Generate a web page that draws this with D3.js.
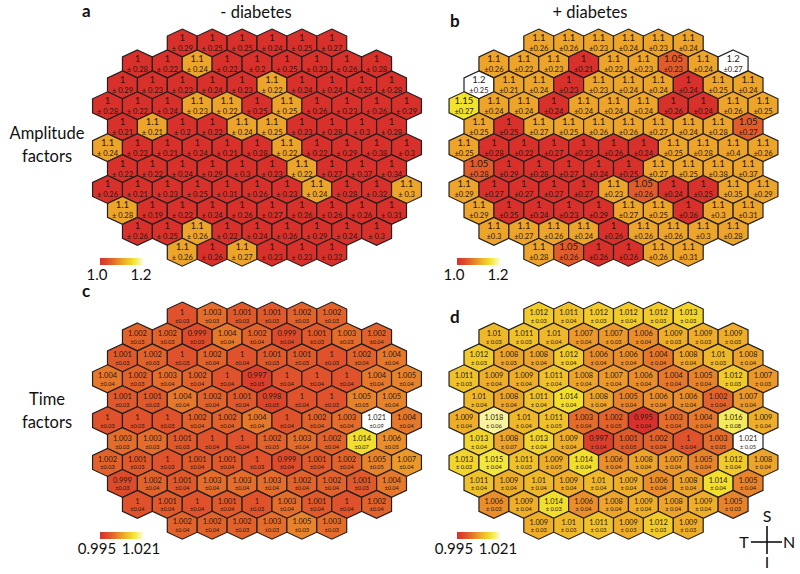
<!DOCTYPE html>
<html><head><meta charset="utf-8">
<script src="https://cdn.jsdelivr.net/npm/d3@7"></script>
<style>body{margin:0;background:#fff}svg{display:block}</style>
</head><body>
<script>
// ---------- DATA ----------
const rowSizes = [6, 9, 10, 11, 10, 11, 10, 11, 10, 9, 6];

const ampNoMean = [
  [1,1,1,1,1,1],
  [1,1,1.1,1,1,1,1,1,1],
  [1,1,1,1,1,1.1,1,1,1,1],
  [1,1,1,1.1,1.1,1,1.1,1,1,1,1],
  [1,1.1,1,1,1.1,1.1,1,1,1,1],
  [1.1,1,1,1,1,1,1.1,1,1,1,1],
  [1,1,1,1,1,1,1.1,1,1,1],
  [1,1,1,1,1,1,1,1.1,1,1,1.1],
  [1.1,1,1,1,1,1,1,1,1,1],
  [1,1,1.1,1,1,1,1,1,1],
  [1.1,1,1.1,1,1,1]
];
const ampNoSD = [
  [0.29,0.25,0.25,0.24,0.25,0.27],
  [0.28,0.22,0.24,0.22,0.2,0.25,0.23,0.26,0.28],
  [0.29,0.23,0.23,0.24,0.23,0.22,0.24,0.24,0.25,0.28],
  [0.28,0.22,0.24,0.23,0.22,0.25,0.25,0.26,0.23,0.26,0.29],
  [0.21,0.21,0.2,0.22,0.24,0.25,0.23,0.28,0.3,0.28],
  [0.24,0.22,0.21,0.24,0.21,0.28,0.22,0.22,0.29,0.38,0.3],
  [0.22,0.22,0.24,0.29,0.3,0.23,0.22,0.27,0.37,0.34],
  [0.26,0.21,0.23,0.25,0.31,0.26,0.23,0.24,0.28,0.32,0.3],
  [0.28,0.19,0.22,0.24,0.26,0.27,0.26,0.26,0.26,0.31],
  [0.26,0.25,0.26,0.22,0.24,0.26,0.29,0.24,0.3],
  [0.26,0.26,0.27,0.23,0.23,0.32]
];
const ampDMMean = [
  [1.1,1.1,1.1,1.1,1.1,1.1],
  [1.1,1.1,1.1,1,1.1,1.1,1.05,1.1,1.2],
  [1.2,1.1,1.1,1,1.1,1.1,1.1,1,1.1,1.1],
  [1.15,1.1,1.1,1,1.1,1.1,1.1,1,1,1.1,1.1],
  [1.1,1,1.1,1.1,1.1,1.1,1.1,1.1,1.1,1.05],
  [1.1,1,1,1,1,1,1,1.1,1.1,1.1,1.1],
  [1.05,1,1,1,1,1,1.1,1.1,1.1,1.1],
  [1.1,1,1,1,1,1.1,1.05,1,1,1.1,1.1],
  [1.1,1,1,1,1,1.1,1.1,1,1.1,1.1],
  [1.1,1.1,1.1,1.1,1,1.1,1.1,1.1,1.1],
  [1.1,1.05,1,1,1.1,1.1]
];
const ampDMSD = [
  [0.26,0.26,0.23,0.24,0.23,0.24],
  [0.26,0.22,0.23,0.21,0.22,0.23,0.23,0.24,0.27],
  [0.25,0.21,0.24,0.23,0.23,0.24,0.24,0.24,0.25,0.24],
  [0.27,0.24,0.24,0.24,0.24,0.24,0.24,0.26,0.24,0.26,0.25],
  [0.25,0.25,0.27,0.25,0.26,0.26,0.27,0.24,0.28,0.27],
  [0.25,0.28,0.22,0.27,0.22,0.26,0.24,0.25,0.28,0.4,0.26],
  [0.28,0.29,0.28,0.27,0.24,0.25,0.27,0.25,0.38,0.37],
  [0.29,0.27,0.27,0.27,0.27,0.23,0.26,0.24,0.25,0.35,0.29],
  [0.29,0.25,0.24,0.23,0.29,0.27,0.25,0.26,0.3,0.31],
  [0.3,0.27,0.26,0.24,0.26,0.26,0.26,0.3,0.28],
  [0.28,0.26,0.26,0.26,0.26,0.31]
];
const timeNoMean = [
  [1,1.003,1.001,1.001,1.002,1.002],
  [1.002,1.002,0.999,1.004,1.002,0.999,1.001,1.003,1.002],
  [1.001,1.002,1,1.002,1,1.001,1.001,1,1.002,1.004],
  [1.004,1.002,1.003,1.002,1,0.997,1,1,1,1.004,1.005],
  [1.001,1.001,1.004,1.002,1.001,0.998,1,1,1.005,1.005],
  [1,1,1,1.002,1.002,1.004,1,1.002,1.003,1.021,1.004],
  [1.003,1.003,1.001,1,1,1.002,1.003,1.002,1.014,1.006],
  [1.002,1.001,1,1.001,1.001,1,0.999,1.001,1.002,1.005,1.007],
  [0.999,1.002,1.001,1.003,1.003,1.003,1.002,1.002,1.001,1.004],
  [1,1.001,1,1.001,1,1.003,1.001,1,1.002],
  [1.002,1.002,1.002,1.003,1.005,1.003]
];
const timeNoSD = [
  [0.03,0.03,0.03,0.03,0.03,0.03],
  [0.03,0.03,0.03,0.04,0.04,0.04,0.03,0.03,0.04],
  [0.03,0.03,0.03,0.04,0.04,0.03,0.03,0.03,0.04,0.04],
  [0.04,0.03,0.04,0.04,0.04,0.05,0.04,0.04,0.04,0.04,0.04],
  [0.03,0.03,0.04,0.04,0.04,0.05,0.04,0.03,0.05,0.04],
  [0.03,0.03,0.03,0.04,0.04,0.04,0.04,0.04,0.04,0.09,0.04],
  [0.03,0.03,0.03,0.04,0.04,0.05,0.04,0.04,0.07,0.05],
  [0.03,0.03,0.03,0.04,0.04,0.03,0.04,0.04,0.04,0.05,0.04],
  [0.03,0.04,0.04,0.04,0.04,0.04,0.04,0.04,0.03,0.04],
  [0.04,0.04,0.04,0.04,0.03,0.04,0.04,0.04,0.04],
  [0.04,0.04,0.03,0.03,0.03,0.03]
];
const timeDMMean = [
  [1.012,1.011,1.012,1.012,1.012,1.013],
  [1.01,1.011,1.01,1.007,1.007,1.006,1.009,1.009,1.009],
  [1.012,1.008,1.008,1.012,1.006,1.006,1.004,1.008,1.01,1.008],
  [1.011,1.009,1.009,1.011,1.008,1.007,1.006,1.004,1.005,1.012,1.007],
  [1.01,1.008,1.011,1.014,1.008,1.005,1.006,1.006,1.002,1.007],
  [1.009,1.018,1.01,1.011,1.003,1.002,0.995,1.003,1.004,1.016,1.009],
  [1.013,1.008,1.013,1.009,0.997,1.001,1.002,1,1.003,1.021],
  [1.013,1.015,1.011,1.009,1.014,1.006,1.008,1.007,1.005,1.012,1.008],
  [1.011,1.009,1.01,1.009,1.01,1.009,1.006,1.008,1.014,1.005],
  [1.006,1.009,1.014,1.006,1.008,1.009,1.008,1.009,1.005],
  [1.009,1.01,1.011,1.009,1.012,1.009]
];
const timeDMSD = [
  [0.03,0.04,0.03,0.04,0.03,0.03],
  [0.03,0.03,0.04,0.04,0.03,0.04,0.03,0.03,0.03],
  [0.03,0.03,0.04,0.04,0.04,0.04,0.04,0.04,0.03,0.04],
  [0.03,0.04,0.04,0.04,0.04,0.04,0.04,0.04,0.04,0.03,0.03],
  [0.04,0.04,0.04,0.04,0.04,0.04,0.04,0.04,0.04,0.04],
  [0.04,0.06,0.04,0.05,0.04,0.05,0.04,0.04,0.04,0.08,0.04],
  [0.04,0.07,0.04,0.04,0.04,0.05,0.04,0.04,0.05,0.05],
  [0.03,0.04,0.03,0.05,0.04,0.04,0.04,0.04,0.04,0.04,0.04],
  [0.04,0.04,0.04,0.04,0.04,0.04,0.04,0.04,0.04,0.04],
  [0.03,0.04,0.03,0.04,0.04,0.04,0.04,0.04,0.03],
  [0.03,0.03,0.03,0.03,0.03,0.03]
];
const ampDomain = [1.0, 1.2];
const timeDomain = [0.995, 1.021];
const ampLegendLabels = ["1.0", "1.2"];
const timeLegendLabels = ["0.995", "1.021"];
const colorStops = ["#d8302a", "#e15c2b", "#eda42a", "#f2e42c", "#ffffff"];

// ---------- DRAW ----------
const W = 800, H = 574;
const FONT = "Lato, 'Open Sans', sans-serif";
const svg = d3.select("body").append("svg").attr("width", W).attr("height", H)
  .style("font-family", FONT);
const defs = svg.append("defs");

const hexW = 29.9, hexH = 27.9;
const hw = hexW / 2, hr = hexH / 2;
const hexPath = `M0,${-hr}L${hw},${-hr/2}L${hw},${hr/2}L0,${hr}L${-hw},${hr/2}L${-hw},${-hr/2}Z`;

const panels = [
  {id:"a", cx:257, y0:43, means:ampNoMean, sds:ampNoSD, domain:ampDomain, labels:ampLegendLabels,
   mSize:9.5, sSize:7.5, pre:"± ", mDy:-2, sDy:8, letter:[82,17], title:"- diabetes", titleX:256,
   leg:[100,258]},
  {id:"b", cx:613.5, y0:43, means:ampDMMean, sds:ampDMSD, domain:ampDomain, labels:ampLegendLabels,
   mSize:9.5, sSize:7.5, pre:"±", mDy:-2, sDy:8, letter:[450,27], title:"+ diabetes", titleX:590,
   leg:[457,258]},
  {id:"c", cx:257, y0:316, means:timeNoMean, sds:timeNoSD, domain:timeDomain, labels:timeLegendLabels,
   mSize:7.4, sSize:5.6, pre:"±", mDy:-0.8, sDy:7, letter:[82,297], leg:[100,532]},
  {id:"d", cx:613.5, y0:316, means:timeDMMean, sds:timeDMSD, domain:timeDomain, labels:timeLegendLabels,
   mSize:7.3, sSize:5.7, pre:"± ", mDy:-0.6, sDy:7, letter:[450,323], leg:[457,532]}
];

panels.forEach(p => {
  const x = d3.scaleLinear().domain([-5.5, 5.5]).range([p.cx - 5.5*hexW, p.cx + 5.5*hexW]);
  const y = d3.scaleLinear().domain([0, 10]).range([p.y0, p.y0 + 10*0.75*hexH]);
  const [lo, hi] = p.domain;
  const color = d3.scaleLinear()
    .domain(colorStops.map((_, i) => lo + (hi - lo) * i / (colorStops.length - 1)))
    .range(colorStops).interpolate(d3.interpolateRgb).clamp(true);

  const cells = [];
  rowSizes.forEach((n, r) => {
    for (let i = 0; i < n; i++) {
      cells.push({r, c: i - (n - 1) / 2, m: p.means[r][i], s: p.sds[r][i]});
    }
  });

  const g = svg.append("g");
  const cell = g.selectAll("g.cell").data(cells).join("g")
    .attr("transform", d => `translate(${x(d.c)},${y(d.r)})`);
  cell.append("path").attr("d", hexPath)
    .attr("fill", d => color(d.m))
    .attr("stroke", "#231f20").attr("stroke-width", 1.2).attr("stroke-linejoin", "miter");
  cell.append("text").attr("text-anchor", "middle").attr("y", p.mDy)
    .attr("font-size", p.mSize).attr("fill", "#2b1712")
    .text(d => String(d.m));
  cell.append("text").attr("text-anchor", "middle").attr("y", p.sDy)
    .attr("font-size", p.sSize).attr("fill", "#2b1712")
    .text(d => p.pre + String(d.s));

  // panel letter
  svg.append("text").attr("x", p.letter[0]).attr("y", p.letter[1])
    .attr("font-size", 17).attr("font-weight", "bold").attr("fill", "#111").text(p.id);
  if (p.title) {
    svg.append("text").attr("x", p.titleX).attr("y", 18).attr("text-anchor", "middle")
      .attr("font-size", 16.5).attr("fill", "#111").text(p.title);
  }

  // legend
  const gid = "grad" + p.id;
  const grad = defs.append("linearGradient").attr("id", gid);
  d3.range(11).forEach(k => {
    grad.append("stop").attr("offset", (k*10) + "%").attr("stop-color", color(lo + (hi - lo) * k / 10 * 0.96));
  });
  const lw = 43, lh = 7;
  const lx = d3.scaleLinear().domain(p.domain).range([p.leg[0], p.leg[0] + lw]);
  svg.append("rect").attr("x", lx(lo)).attr("y", p.leg[1]).attr("width", lx(hi) - lx(lo)).attr("height", lh)
    .attr("fill", `url(#${gid})`);
  svg.append("text").attr("x", lx(lo) - 3).attr("y", p.leg[1] + 22).attr("text-anchor", "middle")
    .attr("font-size", 15).attr("fill", "#111").text(p.labels[0]);
  svg.append("text").attr("x", lx(hi) - 2).attr("y", p.leg[1] + 22).attr("text-anchor", "middle")
    .attr("font-size", 15).attr("fill", "#111").text(p.labels[1]);
});

// Row labels
[["Amplitude", 47, 139], ["factors", 47, 162], ["Time", 47, 405], ["factors", 47, 428]].forEach(t => {
  svg.append("text").attr("x", t[1]).attr("y", t[2]).attr("text-anchor", "middle")
    .attr("font-size", 16.5).attr("fill", "#111").text(t[0]);
});

// Compass
const cg = svg.append("g").attr("fill", "#111").attr("font-size", 16);
cg.append("line").attr("x1", 751).attr("x2", 782).attr("y1", 542).attr("y2", 542).attr("stroke", "#111").attr("stroke-width", 1.6);
cg.append("line").attr("x1", 767).attr("x2", 767).attr("y1", 526).attr("y2", 554).attr("stroke", "#111").attr("stroke-width", 1.6);
[["S", 767, 522], ["T", 744, 547.5], ["N", 789, 547.5], ["I", 767, 568]].forEach(t => {
  cg.append("text").attr("x", t[1]).attr("y", t[2]).attr("text-anchor", "middle").text(t[0]);
});
</script>
</body></html>
